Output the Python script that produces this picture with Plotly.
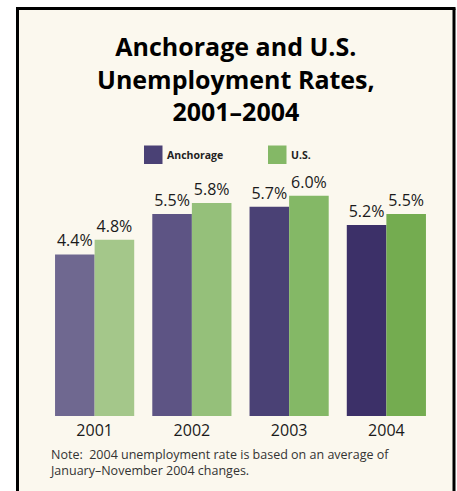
import plotly.graph_objects as go

years = ["2001", "2002", "2003", "2004"]
anchorage = [4.4, 5.5, 5.7, 5.2]
us = [4.8, 5.8, 6.0, 5.5]
anchorage_colors = ["#6f6890", "#5d5484", "#4a4175", "#3c3068"]
us_colors = ["#a4c78a", "#95c07a", "#84b866", "#74ac50"]
title_lines = ["Anchorage and U.S.", "Unemployment Rates,", "2001\u20132004"]
note_lines = ["Note:  2004 unemployment rate is based on an average of",
              "January\u2013November 2004 changes."]

W, H = 457, 491
ML, MR, MT, MB = 46, 22, 170, 75
PW, PH = W - ML - MR, H - MT - MB

def px(x):
    return (x - ML) / PW

def py(y):
    return (H - MB - y) / PH

FONT = "Open Sans"

fig = go.Figure()
fig.add_trace(go.Bar(x=years, y=anchorage, name="Anchorage",
                     marker=dict(color=anchorage_colors, line=dict(width=0)),
                     text=[f"{v:.1f}%" for v in anchorage], textposition="outside",
                     textfont=dict(size=16, color="#1a1a1a", family=FONT),
                     cliponaxis=False))
fig.add_trace(go.Bar(x=years, y=us, name="U.S.",
                     marker=dict(color=us_colors, line=dict(width=0)),
                     text=[f"{v:.1f}%" for v in us], textposition="outside",
                     textfont=dict(size=16, color="#1a1a1a", family=FONT),
                     cliponaxis=False))

shapes = []
shapes.append(dict(type="rect", xref="paper", yref="paper",
                   x0=px(17.5), x1=px(454), y0=py(495), y1=py(8.5),
                   fillcolor="#fbf8ee", line=dict(width=0), layer="below"))
shapes.append(dict(type="line", xref="paper", yref="paper",
                   x0=px(17.5), x1=px(17.5), y0=py(8.5), y1=py(495),
                   line=dict(color="#000000", width=3)))
shapes.append(dict(type="line", xref="paper", yref="paper",
                   x0=px(454), x1=px(454), y0=py(8.5), y1=py(495),
                   line=dict(color="#000000", width=3)))
shapes.append(dict(type="line", xref="paper", yref="paper",
                   x0=px(16), x1=px(455.5), y0=py(8.5), y1=py(8.5),
                   line=dict(color="#000000", width=3)))
shapes.append(dict(type="rect", xref="paper", yref="paper",
                   x0=px(144), x1=px(162.5), y0=py(164), y1=py(145.5),
                   fillcolor=anchorage_colors[2], line=dict(width=0)))
shapes.append(dict(type="rect", xref="paper", yref="paper",
                   x0=px(268), x1=px(286.5), y0=py(164), y1=py(145.5),
                   fillcolor=us_colors[2], line=dict(width=0)))

annotations = []
annotations.append(dict(xref="paper", yref="paper", x=px(236), y=py(27),
                        xanchor="center", yanchor="top", showarrow=False,
                        text="<br>".join(title_lines),
                        font=dict(family=FONT, size=25, color="#000000", weight="bold")))
annotations.append(dict(xref="paper", yref="paper", x=px(165), y=py(155),
                        xanchor="left", yanchor="middle", showarrow=False,
                        text="<b>Anchorage</b>",
                        font=dict(family=FONT, size=10.5, color="#222222")))
annotations.append(dict(xref="paper", yref="paper", x=px(289), y=py(155),
                        xanchor="left", yanchor="middle", showarrow=False,
                        text="<b>U.S.</b>",
                        font=dict(family=FONT, size=10.5, color="#222222")))
annotations.append(dict(xref="paper", yref="paper", x=px(48), y=py(444),
                        xanchor="left", yanchor="top", showarrow=False, align="left",
                        text="<br>".join(note_lines),
                        font=dict(family=FONT, size=12.5, color="#333333")))

fig.update_layout(
    width=W, height=H,
    margin=dict(l=ML, r=MR, t=MT, b=MB),
    paper_bgcolor="#ffffff", plot_bgcolor="rgba(0,0,0,0)",
    barmode="group", bargap=0.186, bargroupgap=0,
    showlegend=False,
    shapes=shapes, annotations=annotations,
    xaxis=dict(showgrid=False, showline=False, zeroline=False, ticks="",
               ticklabelstandoff=3,
               tickfont=dict(family=FONT, size=16, color="#1a1a1a")),
    yaxis=dict(range=[0, 6.7], visible=False),
)

fig.write_html("out.html")
